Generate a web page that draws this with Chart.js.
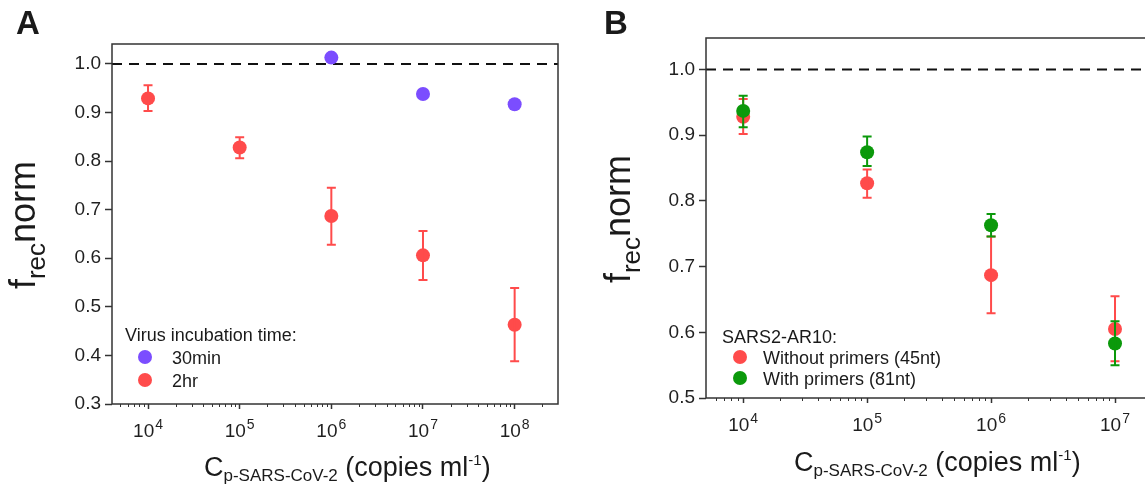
<!DOCTYPE html>
<html>
<head>
<meta charset="utf-8">
<script src="https://cdn.jsdelivr.net/npm/chart.js@4.4.1/dist/chart.umd.min.js"></script>
<style>
  html, body { margin:0; padding:0; background:#ffffff; overflow:hidden; width:1145px; height:495px; }
  body { position:relative; font-family:"Liberation Sans", Arial, sans-serif; color:#1a1a1a; }
  .cv { position:absolute; top:0; }
  .t { position:absolute; white-space:nowrap; }
  .letter { font-weight:bold; font-size:33px; line-height:33px; }
  .ytitle { font-size:36px; line-height:36px; transform:translate(-50%,-50%) rotate(-90deg); }
  .ytitle .s { font-size:26px; position:relative; top:10px; }
  .xtitle { font-size:27px; line-height:27px; }
  .xtitle .s { font-size:17px; position:relative; top:5px; }
  .xtitle .u { font-size:15px; position:relative; top:-11px; }
  .leg { font-size:18px; line-height:18px; }
  .dot { position:absolute; width:14px; height:14px; border-radius:50%; transform:translate(-50%,-50%); }
</style>
</head>
<body>
<div id="wa" class="cv" style="left:0;width:575px;height:495px;"><canvas id="ca"></canvas></div>
<div id="wb" class="cv" style="left:575px;width:600px;height:495px;"><canvas id="cb"></canvas></div>

<div class="t letter" style="left:16px;top:6px;">A</div>
<div class="t letter" style="left:604px;top:6px;">B</div>

<div class="t ytitle" style="left:24px;top:225px;">f<span class="s">rec</span>norm</div>
<div class="t ytitle" style="left:619px;top:219px;">f<span class="s">rec</span>norm</div>

<div class="t xtitle" style="left:204px;top:454px;">C<span class="s">p-SARS-CoV-2</span> (copies ml<span class="u">-1</span>)</div>
<div class="t xtitle" style="left:794px;top:449px;">C<span class="s">p-SARS-CoV-2</span> (copies ml<span class="u">-1</span>)</div>

<div class="t leg" style="left:125px;top:326px;">Virus incubation time:</div>
<div class="dot" style="left:145px;top:357px;background:#7b4dff;"></div>
<div class="t leg" style="left:172px;top:349px;">30min</div>
<div class="dot" style="left:145px;top:380px;background:#ff4b4b;"></div>
<div class="t leg" style="left:172px;top:372px;">2hr</div>

<div class="t leg" style="left:722px;top:328px;">SARS2-AR10:</div>
<div class="dot" style="left:740px;top:357px;background:#ff4b4b;"></div>
<div class="t leg" style="left:763px;top:349px;">Without primers (45nt)</div>
<div class="dot" style="left:740px;top:378px;background:#0b990b;"></div>
<div class="t leg" style="left:763px;top:370px;">With primers (81nt)</div>

<script>
// ---------- Data ----------
const xTicksA = [1e4, 1e5, 1e6, 1e7, 1e8];
const xExpA = ["4", "5", "6", "7", "8"];
const yTicksA = [0.3, 0.4, 0.5, 0.6, 0.7, 0.8, 0.9, 1.0];

const xA30 = [1e6, 1e7, 1e8];
const yA30 = [1.013, 0.938, 0.917];

const xA2h = [1e4, 1e5, 1e6, 1e7, 1e8];
const yA2h = [0.929, 0.828, 0.687, 0.606, 0.463];
const loA2h = [0.903, 0.806, 0.628, 0.555, 0.388];
const hiA2h = [0.956, 0.849, 0.745, 0.656, 0.539];

const xTicksB = [1e4, 1e5, 1e6, 1e7];
const xExpB = ["4", "5", "6", "7"];
const yTicksB = [0.5, 0.6, 0.7, 0.8, 0.9, 1.0];

const xB = [1e4, 1e5, 1e6, 1e7];
const yBwithout = [0.928, 0.827, 0.687, 0.605];
const loBwithout = [0.902, 0.805, 0.629, 0.556];
const hiBwithout = [0.955, 0.848, 0.746, 0.655];
const yBwith = [0.937, 0.874, 0.763, 0.583];
const loBwith = [0.912, 0.853, 0.746, 0.550];
const hiBwith = [0.960, 0.898, 0.780, 0.617];

const refLine = 1.0;

// ---------- Styles ----------
const RED = '#ff4b4b', PURPLE = '#7b4dff', GREEN = '#0b990b';
const AX = '#333333', TXT = '#1f1f1f';

const pts = (xs, ys) => xs.map((x, i) => ({x: x, y: ys[i]}));

const errorBars = {
  id: 'errorBars',
  afterDatasetDraw(chart, args) {
    const ds = chart.data.datasets[args.index];
    if (!ds.errLo) return;
    const xs = chart.scales.x, ys = chart.scales.y, c = chart.ctx;
    c.save();
    c.strokeStyle = ds.backgroundColor; c.lineWidth = 2;
    ds.data.forEach((p, i) => {
      const px = xs.getPixelForValue(p.x);
      const yl = ys.getPixelForValue(ds.errLo[i]);
      const yh = ys.getPixelForValue(ds.errHi[i]);
      c.beginPath();
      c.moveTo(px, yl); c.lineTo(px, yh);
      c.moveTo(px - 4.5, yl); c.lineTo(px + 4.5, yl);
      c.moveTo(px - 4.5, yh); c.lineTo(px + 4.5, yh);
      c.stroke();
    });
    c.restore();
  }
};

const frame = {
  id: 'frame',
  afterDraw(chart) {
    const a = chart.chartArea, c = chart.ctx, xs = chart.scales.x;
    const o = chart.options.powLabels;
    c.save();
    c.strokeStyle = AX; c.lineWidth = 1.5;
    c.strokeRect(a.left, a.top, a.right - a.left, a.bottom - a.top);
    // minor log ticks
    c.lineWidth = 1;
    const d0 = Math.floor(Math.log10(xs.min)), d1 = Math.ceil(Math.log10(xs.max));
    c.beginPath();
    for (let d = d0; d <= d1; d++) {
      for (let k = 2; k <= 9; k++) {
        const v = k * Math.pow(10, d);
        if (v <= xs.min || v >= xs.max) continue;
        const px = Math.round(xs.getPixelForValue(v)) + 0.5;
        c.moveTo(px, a.bottom); c.lineTo(px, a.bottom + 3);
      }
    }
    c.stroke();
    // power-of-ten tick labels (base + superscript exponent)
    c.fillStyle = TXT; c.textBaseline = 'alphabetic'; c.textAlign = 'left';
    const base = a.bottom + 32.5;
    o.ticks.forEach((v, i) => {
      const px = xs.getPixelForValue(v);
      c.font = '19px "Liberation Sans"';
      const w1 = c.measureText('10').width;
      c.font = '14px "Liberation Sans"';
      const w2 = c.measureText(o.exps[i]).width;
      const x0 = px - (w1 + w2 + 1) / 2;
      c.font = '19px "Liberation Sans"';
      c.fillText('10', x0, base);
      c.font = '14px "Liberation Sans"';
      c.fillText(o.exps[i], x0 + w1 + 1, base - 8);
    });
    c.restore();
  }
};

function makeChart(canvasId, cfg) {
  const xTicks = cfg.xTicks, yTicks = cfg.yTicks;
  return new Chart(document.getElementById(canvasId), {
    type: 'scatter',
    data: { datasets: cfg.datasets },
    options: {
      responsive: true, maintainAspectRatio: false, animation: false,
      powLabels: { ticks: xTicks, exps: cfg.xExp },
      layout: { padding: cfg.padding },
      plugins: { legend: { display: false }, tooltip: { enabled: false } },
      elements: { point: { radius: 7, hoverRadius: 7, borderWidth: 0 } },
      scales: {
        x: {
          type: 'logarithmic', min: cfg.xMin, max: cfg.xMax,
          afterBuildTicks: s => { s.ticks = xTicks.map(v => ({ value: v })); },
          afterFit: s => { s.height = cfg.xH; },
          border: { display: false },
          grid: { display: true, drawOnChartArea: false, drawTicks: true, tickLength: 5, tickWidth: 1.5, tickColor: AX },
          ticks: { display: false, autoSkip: false }
        },
        y: {
          type: 'linear', min: cfg.yMin, max: cfg.yMax,
          afterBuildTicks: s => { s.ticks = yTicks.map(v => ({ value: v })); },
          afterFit: s => { s.width = cfg.yW; },
          border: { display: false },
          grid: { display: true, drawOnChartArea: false, drawTicks: true, tickLength: 7, tickWidth: 1.5, tickColor: AX },
          ticks: {
            padding: 4, color: TXT,
            font: { family: 'Liberation Sans', size: 19 },
            callback: v => Number(v).toFixed(1)
          }
        }
      }
    },
    plugins: [errorBars, frame]
  });
}

function dashed(xmin, xmax) {
  return {
    type: 'line', data: [{x: xmin, y: refLine}, {x: xmax, y: refLine}],
    borderColor: '#111111', borderWidth: 2, borderDash: [10, 7], pointRadius: 0, order: 10
  };
}

const xMinA = Math.pow(10, 3.607), xMaxA = Math.pow(10, 8.473);
makeChart('ca', {
  xTicks: xTicksA, xExp: xExpA, yTicks: yTicksA,
  xMin: xMinA, xMax: xMaxA, yMin: 0.3, yMax: 1.041,
  padding: { left: 0, top: 44, right: 17, bottom: 0 }, xH: 91, yW: 112,
  datasets: [
    dashed(xMinA, xMaxA),
    { label: '30min', data: pts(xA30, yA30), backgroundColor: PURPLE, borderColor: PURPLE, order: 2 },
    { label: '2hr', data: pts(xA2h, yA2h), backgroundColor: RED, borderColor: RED,
      errLo: loA2h, errHi: hiA2h, order: 1 }
  ]
});

const xMinB = Math.pow(10, 3.70), xMaxB = Math.pow(10, 7.363);
makeChart('cb', {
  xTicks: xTicksB, xExp: xExpB, yTicks: yTicksB,
  xMin: xMinB, xMax: xMaxB, yMin: 0.5, yMax: 1.048,
  padding: { left: 0, top: 38, right: 15, bottom: 0 }, xH: 97, yW: 131,
  datasets: [
    dashed(xMinB, xMaxB),
    { label: 'Without primers (45nt)', data: pts(xB, yBwithout), backgroundColor: RED, borderColor: RED,
      errLo: loBwithout, errHi: hiBwithout, order: 2 },
    { label: 'With primers (81nt)', data: pts(xB, yBwith), backgroundColor: GREEN, borderColor: GREEN,
      errLo: loBwith, errHi: hiBwith, order: 1 }
  ]
});
</script>
</body>
</html>
